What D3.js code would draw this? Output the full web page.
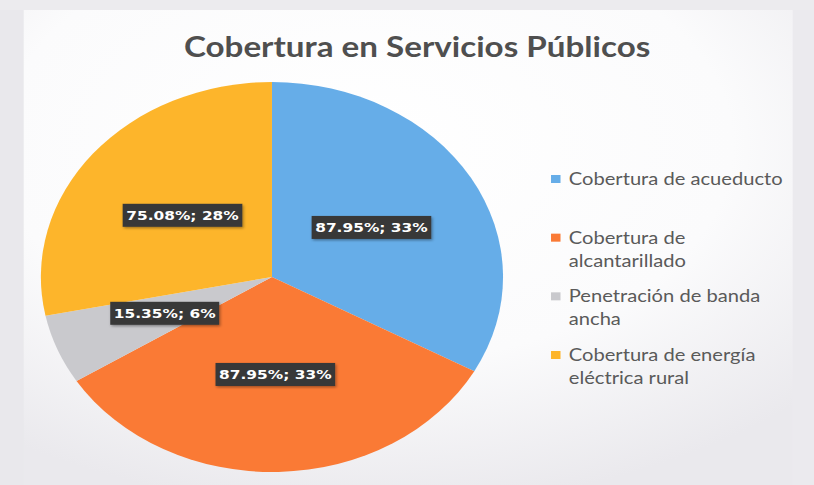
<!DOCTYPE html>
<html>
<head>
<meta charset="utf-8">
<script src="https://cdn.jsdelivr.net/npm/d3@7"></script>
<style>
  body { margin: 0; background: #ebeaee; }
  svg { display: block; }
</style>
</head>
<body>
<svg id="canvas"></svg>
<script>
let title = 'Cobertura en Servicios Públicos'
let categories = ['Cobertura de acueducto', 'Cobertura de alcantarillado', 'Penetración de banda ancha', 'Cobertura de energía eléctrica rural']
let values = [87.95, 87.95, 15.35, 75.08]
let shares = [33, 33, 6, 28]
let legendLines = [['Cobertura de acueducto'], ['Cobertura de', 'alcantarillado'], ['Penetración de banda', 'ancha'], ['Cobertura de energía', 'eléctrica rural']]
let colors = ['#66ade8', '#fa7a35', '#c9c9cd', '#fdb52b']

// the photo is stretched sideways, so draw in a narrower box and stretch it
let width = 814
let height = 485
let stretch = 1.185
let vbWidth = width / stretch

let canvas = d3.select('#canvas')
canvas.attr('width', width).attr('height', height)
      .attr('viewBox', `0 0 ${vbWidth} ${height}`)
      .attr('preserveAspectRatio', 'none')

let defs = canvas.append('defs')
let grad = defs.append('radialGradient').attr('id', 'bg')
  .attr('cx', '0.45').attr('cy', '0.3').attr('r', '0.75')
grad.append('stop').attr('offset', '0%').attr('stop-color', '#ffffff')
grad.append('stop').attr('offset', '60%').attr('stop-color', '#fbfbfc')
grad.append('stop').attr('offset', '100%').attr('stop-color', '#eae9ed')

let shadow = defs.append('filter').attr('id', 'shadow')
  .attr('x', '-20%').attr('y', '-30%').attr('width', '140%').attr('height', '160%')
shadow.append('feDropShadow').attr('dx', 1).attr('dy', 1.5).attr('stdDeviation', 1.2)
  .attr('flood-color', '#000').attr('flood-opacity', 0.35)

canvas.append('rect')
  .attr('width', vbWidth).attr('height', height)
  .attr('fill', 'url(#bg)')
canvas.append('rect')
  .attr('width', 20).attr('height', height)
  .attr('fill', '#e9e8ec')
canvas.append('rect')
  .attr('x', vbWidth - 18).attr('width', 18).attr('height', height)
  .attr('fill', '#ebeaee')
canvas.append('rect')
  .attr('width', vbWidth).attr('height', 10)
  .attr('fill', '#ecebee')

canvas.append('text')
  .attr('x', 352).attr('y', 57)
  .attr('text-anchor', 'middle')
  .style('font-family', 'Lato, sans-serif')
  .style('font-weight', 'bold')
  .style('font-size', '28px')
  .style('fill', '#4f4f4f')
  .text(title)

let cx = 229.5
let cy = 277
let radius = 195

let pie = d3.pie().sort(null).value(d => d)
let arc = d3.arc().innerRadius(0).outerRadius(radius)
let slices = pie(values)

let g = canvas.append('g').attr('transform', `translate(${cx},${cy})`)

g.selectAll('path')
  .data(slices)
  .enter()
  .append('path')
  .attr('d', arc)
  .attr('fill', (d, i) => colors[i])

let labels = g.selectAll('g.label')
  .data(slices)
  .enter()
  .append('g')
  .attr('class', 'label')
  .attr('transform', d => `translate(${arc.centroid(d)})`)

labels.append('rect').attr('class', 'box')
labels.append('text')
  .attr('text-anchor', 'middle')
  .attr('dy', '0.36em')
  .style('font-family', 'DejaVu Sans, sans-serif')
  .style('font-weight', 'bold')
  .style('font-size', '13px')
  .style('fill', '#ffffff')
  .text((d, i) => `${values[i].toFixed(2)}%; ${shares[i]}%`)

labels.each(function () {
  let t = d3.select(this).select('text').node()
  let w = t.getComputedTextLength() + 6
  let h = 23
  d3.select(this).select('rect')
    .attr('x', -w / 2).attr('y', -h / 2)
    .attr('width', w).attr('height', h)
    .attr('fill', '#383838')
    .attr('filter', 'url(#shadow)')
})

let legend = canvas.append('g').attr('id', 'legend')
let legendScale = d3.scaleLinear().domain([0, 3]).range([185, 361])

let items = legend.selectAll('g')
  .data(categories)
  .enter()
  .append('g')
  .attr('transform', (d, i) => `translate(465,${legendScale(i)})`)

items.append('rect')
  .attr('x', 0).attr('y', -10)
  .attr('width', 8).attr('height', 8)
  .attr('fill', (d, i) => colors[i])

items.append('text')
  .attr('x', 15)
  .style('font-family', 'Lato, sans-serif')
  .style('font-size', '17px')
  .style('fill', '#5a5a5a')
  .selectAll('tspan')
  .data((d, i) => legendLines[i])
  .enter()
  .append('tspan')
  .attr('x', 15)
  .attr('dy', (d, j) => j === 0 ? 0 : 23)
  .text(d => d)
</script>
</body>
</html>
